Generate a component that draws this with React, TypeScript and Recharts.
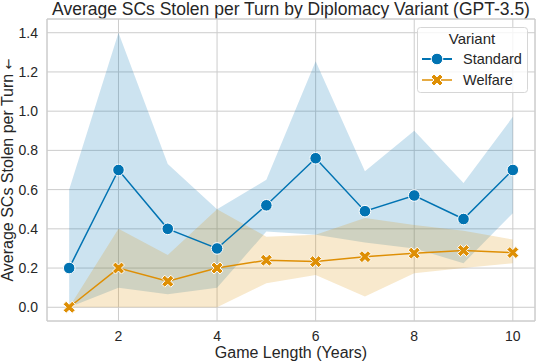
import { ComposedChart, Area, Line, XAxis, YAxis, CartesianGrid, ReferenceArea, Label } from "recharts";

const years = [1, 2, 3, 4, 5, 6, 7, 8, 9, 10];

const standardMean = [0.2, 0.7, 0.4, 0.3, 0.52, 0.76, 0.49, 0.57, 0.45, 0.7];
const standardLow = [0.0, 0.1, 0.067, 0.1, 0.386, 0.37, 0.33, 0.3, 0.225, 0.48];
const standardHigh = [0.6, 1.4, 0.73, 0.5, 0.65, 1.255, 0.693, 0.9, 0.634, 0.971];

const welfareMean = [0.0, 0.2, 0.133, 0.2, 0.24, 0.233, 0.258, 0.276, 0.289, 0.279];
const welfareLow = [0.0, 0.0, 0.0, 0.0, 0.123, 0.165, 0.055, 0.174, 0.2, 0.225];
const welfareHigh = [0.0, 0.4, 0.267, 0.5, 0.36, 0.37, 0.455, 0.42, 0.39, 0.345];

const xTicks = [2, 4, 6, 8, 10];
const yTicks = [0, 0.2, 0.4, 0.6, 0.8, 1.0, 1.2, 1.4];

const BLUE = "#0173b2";
const ORANGE = "#de8f05";
const GRID = "#cccccc";
const TEXT = "#262626";
const FONT = "'Liberation Sans', 'DejaVu Sans', Arial, sans-serif";

const data = years.map((year, i) => ({
  year,
  std: standardMean[i],
  stdRange: [standardLow[i], standardHigh[i]],
  wel: welfareMean[i],
  welRange: [welfareLow[i], welfareHigh[i]],
}));

// matplotlib "X" filled marker, unit = 3px
const xPath = (cx: number, cy: number, u = 3) => {
  const pts = [
    [-1, -2], [0, -1], [1, -2], [2, -1], [1, 0], [2, 1],
    [1, 2], [0, 1], [-1, 2], [-2, 1], [-1, 0], [-2, -1],
  ];
  return pts.map(([x, y], i) => `${i ? "L" : "M"}${cx + x * u},${cy + y * u}`).join(" ") + " Z";
};

const CircleDot = (p: any) => (
  <circle key={`c-${p.index}`} cx={p.cx} cy={p.cy} r={5.8} fill={BLUE} stroke="#fff" strokeWidth={1} />
);

const XDot = (p: any) => (
  <path key={`x-${p.index}`} d={xPath(p.cx, p.cy)} fill={ORANGE} stroke="#fff" strokeWidth={1} />
);

// rotated y label; arrow set in DejaVu so it keeps a normal advance
const YLabel = (props: any) => {
  const vb = props.viewBox || {};
  const cx = 7;
  const cy = (vb.y ?? 19) + (vb.height ?? 302) / 2;
  return (
    <text
      x={cx}
      y={cy}
      dy="0.36em"
      transform={`rotate(-90, ${cx}, ${cy})`}
      textAnchor="middle"
      fontSize={16}
      fill={TEXT}
      fontFamily={FONT}
    >
      Average SCs Stolen per Turn <tspan fontFamily="'DejaVu Sans'" fontSize={13}>←</tspan>
    </text>
  );
};

const LegendBox = () => (
  <svg
    width={111}
    height={66}
    style={{ position: "absolute", left: 417, top: 27, overflow: "visible" }}
  >
    <rect x={0.5} y={0.5} width={110} height={65} rx={3} fill="rgba(255,255,255,0.8)" stroke="#d6d6d6" />
    <text x={55} y={17} textAnchor="middle" fontSize={15} fill={TEXT} fontFamily={FONT}>
      Variant
    </text>
    <line x1={5} x2={35} y1={32} y2={32} stroke={BLUE} strokeWidth={2} />
    <circle cx={20} cy={32} r={5.8} fill={BLUE} stroke="#fff" strokeWidth={1} />
    <text x={46} y={37} fontSize={14.5} fill={TEXT} fontFamily={FONT}>
      Standard
    </text>
    <line x1={5} x2={35} y1={53} y2={53} stroke={ORANGE} strokeWidth={1.5} />
    <path d={xPath(20, 53)} fill={ORANGE} stroke="#fff" strokeWidth={1} />
    <text x={46} y={58} fontSize={14.5} fill={TEXT} fontFamily={FONT}>
      Welfare
    </text>
  </svg>
);

export default function App() {
  return (
    <div
      style={{
        position: "absolute",
        left: 0,
        top: 0,
        width: 536,
        height: 362,
        background: "#fff",
        fontFamily: FONT,
      }}
    >
      <div
        style={{
          position: "absolute",
          left: 47,
          top: 1,
          width: 488,
          textAlign: "center",
          fontSize: 17.5,
          lineHeight: "16px",
          color: TEXT,
          whiteSpace: "nowrap",
        }}
      >
        Average SCs Stolen per Turn by Diplomacy Variant (GPT-3.5)
      </div>
      <ComposedChart
        width={536}
        height={362}
        data={data}
        margin={{ top: 19, right: 1, left: 0, bottom: 0 }}
      >
        <CartesianGrid stroke={GRID} strokeWidth={1} />
        <ReferenceArea x1={0.55} x2={10.45} y1={-0.07} y2={1.47} fill="none" stroke={GRID} strokeWidth={1} />
        <XAxis
          type="number"
          dataKey="year"
          domain={[0.55, 10.45]}
          ticks={xTicks}
          allowDataOverflow
          axisLine={false}
          tickLine={false}
          height={41}
          tickMargin={4}
          tick={{ fontSize: 14, fill: TEXT, fontFamily: FONT }}
        >
          <Label value="Game Length (Years)" position="insideBottom" offset={4} fontSize={16} fill={TEXT} fontFamily={FONT} />
        </XAxis>
        <YAxis
          type="number"
          domain={[-0.07, 1.47]}
          ticks={yTicks}
          allowDataOverflow
          axisLine={false}
          tickLine={false}
          width={47}
          tickMargin={3}
          tickFormatter={(v: number) => v.toFixed(1)}
          tick={{ fontSize: 14, fill: TEXT, fontFamily: FONT }}
        >
          <Label content={YLabel} />
        </YAxis>
        <Area
          type="linear"
          dataKey="stdRange"
          fill={BLUE}
          fillOpacity={0.2}
          stroke="none"
          isAnimationActive={false}
        />
        <Line
          type="linear"
          dataKey="std"
          stroke={BLUE}
          strokeWidth={1.5}
          dot={CircleDot}
          activeDot={false}
          isAnimationActive={false}
        />
        <Area
          type="linear"
          dataKey="welRange"
          fill={ORANGE}
          fillOpacity={0.2}
          stroke="none"
          isAnimationActive={false}
        />
        <Line
          type="linear"
          dataKey="wel"
          stroke={ORANGE}
          strokeWidth={1.5}
          dot={XDot}
          activeDot={false}
          isAnimationActive={false}
        />
      </ComposedChart>
      <LegendBox />
    </div>
  );
}
